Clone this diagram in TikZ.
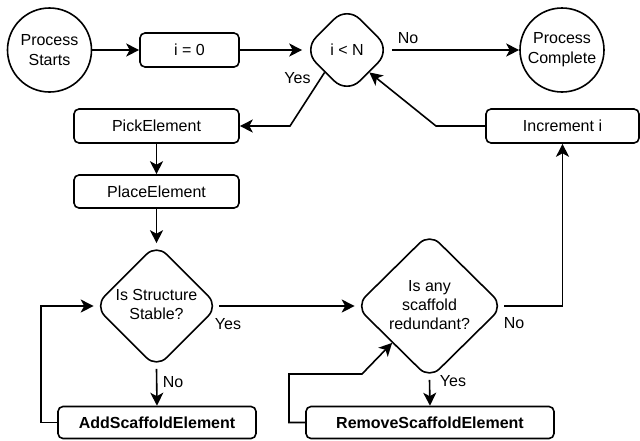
\documentclass[tikz,border=0pt]{standalone}
\usepackage{fontspec}
\setmainfont{Liberation Sans}
\usetikzlibrary{shapes.geometric,arrows.meta,calc}
\tikzset{
  base/.style={draw=black, line width=1.6pt, align=center, inner sep=0pt,
    font=\fontsize{16}{20}\selectfont},
  terminal/.style={base, circle, minimum size=84},
  stepbox/.style={base, rectangle, rounded corners=5pt, minimum height=34},
  decision/.style={base, diamond, rounded corners=#1},
  lbl/.style={inner sep=0pt, font=\fontsize{16}{20}\selectfont},
  arr/.style={line width=1.6pt, -{Stealth[length=13pt,width=13pt,inset=3.5pt]}},
}
\begin{document}
\begin{tikzpicture}[x=1pt,y=-1pt]
\useasboundingbox (0,0) rectangle (640,440);

% nodes
\node[terminal] (start) at (49.5,50) {Process\\Starts};
\node[stepbox, minimum width=99] (init) at (189.5,50) {i = 0};
\node[decision=18pt, minimum width=88, minimum height=88] (cond) at (347,50) {i < N};
\node[terminal] (done) at (562,50) {Process\\Complete};

\node[stepbox, minimum width=165] (pick) at (156.5,126) {PickElement};
\node[stepbox, minimum width=153] (incr) at (562.5,126) {Increment i};
\node[stepbox, minimum width=165, minimum height=33] (place) at (156.5,191.5) {PlaceElement};

\node[decision=14pt, minimum width=124, minimum height=124] (stable) at (156.5,306) {\raisebox{-4pt}{\begin{tabular}{@{}c@{}}Is Structure\\[-1pt]Stable?\end{tabular}}};
\node[decision=14pt, minimum width=148, minimum height=146] (isany) at (429.5,306) {\raisebox{4pt}{\begin{tabular}{@{}c@{}}Is any\\[-1pt]scaffold\\[-1pt]redundant?\end{tabular}}};

\node[stepbox, minimum width=198, minimum height=32] (add) at (157,422.5) {\bfseries AddScaffoldElement};
\node[stepbox, minimum width=248, minimum height=32] (remove) at (430,422.5) {\bfseries RemoveScaffoldElement};

% branch labels
\node[lbl] (lyes1) at (297.5,78) {Yes};
\node[lbl] (lno1) at (408,38) {No};
\node[lbl] (lyes2) at (228,324) {Yes};
\node[lbl] (lno2) at (173,382) {No};
\node[lbl] (lno3) at (514,323) {No};
\node[lbl] (lyes3) at (453,381) {Yes};

% bend points
\coordinate (yesbend) at (290,126);
\coordinate (incrbend) at (436,126);
\coordinate (addloop) at (41,422.5);
\coordinate (remloopA) at (289,422.5);
\coordinate (remloopB) at (289,374);
\coordinate (remloopC) at (362,374);

% connectors
\draw[arr] (start.east) -- (init.west);
\draw[arr] (init.east) -- (cond.west);
\draw[arr] (cond.east) -- (done.west);
\draw[arr] ($(cond.west)!0.5!(cond.south)$) -- (yesbend) -- (pick.east);
\draw[arr] (incr.west) -- (incrbend) -- ($(cond.east)!0.5!(cond.south)$);
\draw[arr] (pick.south) -- (place.north);
\draw[arr] (place.south) -- (stable.north);
\draw[arr] (stable.east) -- (isany.west);
\draw[arr] (stable.south) -- (add.north);
\draw[arr] (add.west) -- (addloop) |- (stable.west);
\draw[arr] (isany.east) -| (incr.south);
\draw[arr] (isany.south) -- (remove.north);
\draw[arr] (remove.west) -- (remloopA) -- (remloopB) -- (remloopC) -- ($(isany.west)!0.5!(isany.south)$);
\end{tikzpicture}
\end{document}
